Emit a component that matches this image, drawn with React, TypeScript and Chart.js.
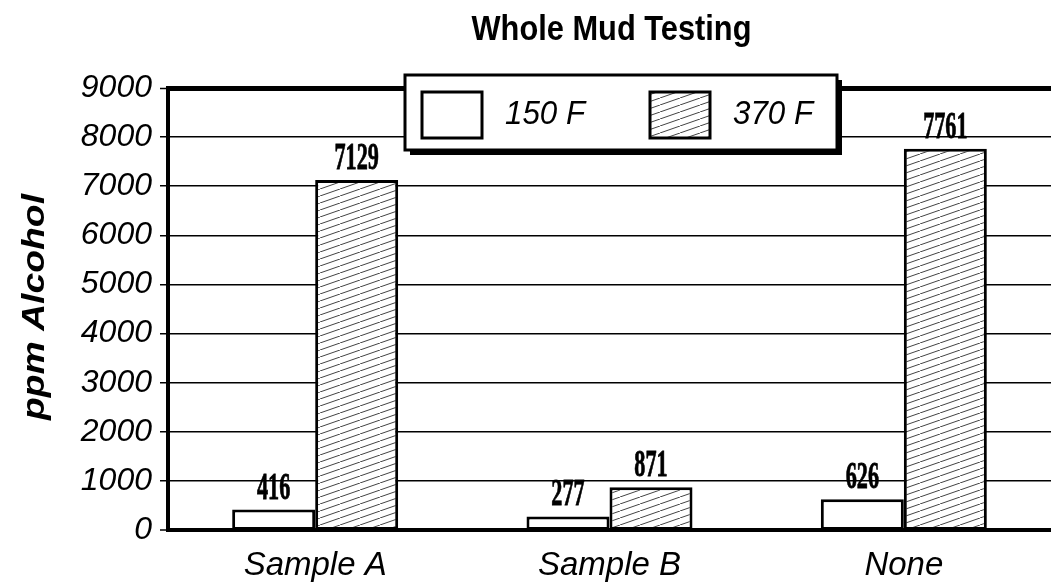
import { useEffect, useRef } from "react";
import { Chart, registerables } from "chart.js";

Chart.register(...registerables);

const chartTitle = "Whole Mud Testing";
const yAxisTitle = "ppm Alcohol";
const categories = ["Sample A", "Sample B", "None"];
const seriesNames = ["150 F", "370 F"];
const values150F = [416, 277, 626];
const values370F = [7129, 871, 7761];
const yMin = 0;
const yMax = 9000;
const yStep = 1000;

function makeHatch(): CanvasPattern | string {
  const c = document.createElement("canvas");
  c.width = 20;
  c.height = 7;
  const g = c.getContext("2d");
  if (!g) return "#ccc";
  g.fillStyle = "#fff";
  g.fillRect(0, 0, 20, 7);
  g.strokeStyle = "#444";
  g.lineWidth = 1;
  g.beginPath();
  g.moveTo(-2, 7.7);
  g.lineTo(22, -0.7);
  g.stroke();
  return g.createPattern(c, "repeat") || "#ccc";
}

function drawScaledText(
  ctx: CanvasRenderingContext2D,
  text: string,
  x: number,
  y: number,
  sx: number,
  sy: number,
  strokeW = 0
) {
  ctx.save();
  ctx.translate(x, y);
  ctx.scale(sx, sy);
  ctx.fillText(text, 0, 0);
  if (strokeW > 0) {
    ctx.lineWidth = strokeW;
    ctx.strokeStyle = ctx.fillStyle as string;
    ctx.strokeText(text, 0, 0);
  }
  ctx.restore();
}

export default function App() {
  const ref = useRef<HTMLCanvasElement | null>(null);

  useEffect(() => {
    const canvas = ref.current;
    if (!canvas) return;
    const hatch = makeHatch();

    const decor = {
      id: "decor",
      afterDatasetsDraw(chart: any) {
        const ctx: CanvasRenderingContext2D = chart.ctx;
        ctx.save();
        ctx.fillStyle = "#000";
        ctx.font = 'bold 37px "Liberation Serif"';
        ctx.textAlign = "center";
        ctx.textBaseline = "alphabetic";
        chart.data.datasets.forEach((ds: any, di: number) => {
          const meta = chart.getDatasetMeta(di);
          meta.data.forEach((el: any, i: number) => {
            drawScaledText(ctx, String(ds.data[i]), el.x, el.y - 11, 0.6, 1, 0.8);
          });
        });
        ctx.restore();
      },
      afterDraw(chart: any) {
        const ctx: CanvasRenderingContext2D = chart.ctx;
        const area = chart.chartArea;
        ctx.save();
        ctx.fillStyle = "#000";

        // title
        ctx.font = 'bold 35px "Liberation Sans"';
        ctx.textAlign = "center";
        ctx.textBaseline = "alphabetic";
        const tw = ctx.measureText(chartTitle).width;
        drawScaledText(ctx, chartTitle, (area.left + area.right) / 2 + 2, 40, 280 / tw, 1);

        // y axis title
        ctx.font = 'italic bold 31px "Liberation Sans"';
        ctx.textAlign = "center";
        ctx.textBaseline = "middle";
        const aw = ctx.measureText(yAxisTitle).width;
        ctx.save();
        ctx.translate(35, 307);
        ctx.rotate(-Math.PI / 2);
        ctx.scale(226 / aw, 1);
        ctx.fillText(yAxisTitle, 0, 0);
        ctx.restore();

        // legend box
        const lx = 405, ly = 75, lw = 432, lh = 75;
        ctx.fillStyle = "#000";
        ctx.fillRect(lx + 5, ly + 5, lw, lh);
        ctx.fillStyle = "#fff";
        ctx.fillRect(lx, ly, lw, lh);
        ctx.strokeStyle = "#000";
        ctx.lineWidth = 3;
        ctx.strokeRect(lx, ly, lw, lh);

        const swatches = [
          { x: 422, fill: "#fff" as any },
          { x: 650, fill: hatch as any },
        ];
        const textX = [505, 733];
        ctx.font = 'italic 33px "Liberation Sans"';
        ctx.textAlign = "left";
        ctx.textBaseline = "middle";
        swatches.forEach((s, i) => {
          ctx.fillStyle = s.fill;
          ctx.fillRect(s.x, 92, 60, 46);
          ctx.lineWidth = 3;
          ctx.strokeStyle = "#000";
          ctx.strokeRect(s.x, 92, 60, 46);
          ctx.fillStyle = "#000";
          drawScaledText(ctx, seriesNames[i], textX[i], 115, 0.95, 1);
        });
        ctx.restore();
      },
    };

    const chart = new Chart(canvas, {
      type: "bar",
      data: {
        labels: categories,
        datasets: [
          {
            label: seriesNames[0],
            data: values150F,
            backgroundColor: "#fff",
            borderColor: "#000",
            borderWidth: 3,
            borderSkipped: false,
            categoryPercentage: 0.564,
            barPercentage: 1,
          },
          {
            label: seriesNames[1],
            data: values370F,
            backgroundColor: hatch as any,
            borderColor: "#000",
            borderWidth: 3,
            borderSkipped: false,
            categoryPercentage: 0.564,
            barPercentage: 1,
          },
        ],
      },
      options: {
        responsive: false,
        animation: false,
        layout: { padding: { top: 88, left: 0, right: 0, bottom: 0 } },
        plugins: {
          legend: { display: false },
          title: { display: false },
          tooltip: { enabled: false },
        },
        scales: {
          x: {
            afterFit: (s: any) => {
              s.height = 58;
            },
            grid: { display: false, drawTicks: false },
            border: { display: true, width: 4, color: "#000" },
            ticks: {
              color: "#000",
              padding: 16,
              font: { family: "Liberation Sans", style: "italic", size: 33 },
            },
          },
          y: {
            min: yMin,
            max: yMax,
            afterFit: (s: any) => {
              s.width = 168;
            },
            ticks: {
              stepSize: yStep,
              color: "#000",
              padding: 8,
              font: { family: "Liberation Sans", style: "italic", size: 32 },
              callback: (v: any) => String(v),
            },
            grid: {
              color: "#000",
              lineWidth: (c: any) =>
                c.tick && c.tick.value === yMax ? 5 : c.tick && c.tick.value === yMin ? 0 : 1.5,
              tickLength: 8,
              tickWidth: 1.5,
              tickColor: "#000",
            },
            border: { display: true, width: 4, color: "#000" },
          },
        },
      },
      plugins: [decor],
    });

    return () => chart.destroy();
  }, []);

  return (
    <div style={{ position: "absolute", left: 0, top: 0, width: 1051, height: 588, background: "#fff" }}>
      <canvas ref={ref} width={1051} height={588} style={{ display: "block" }} />
    </div>
  );
}
